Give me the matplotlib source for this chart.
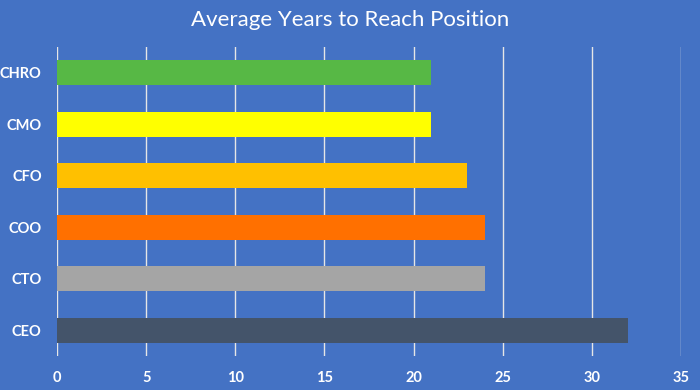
import matplotlib
matplotlib.use('Agg')
import matplotlib.pyplot as plt

# 数据
positions = ['CEO', 'CTO', 'COO', 'CFO', 'CMO', 'CHRO']
years = [32, 24, 24, 23, 21, 21]
bar_colors = ['#44546A', '#A5A5A5', '#FF7000', '#FFC000', '#FFFF00', '#57B845']
x_ticks = [0, 5, 10, 15, 20, 25, 30, 35]

bg = '#4472C4'

plt.rcParams['font.family'] = ['Lato', 'DejaVu Sans']

fig = plt.figure(figsize=(7, 3.9), dpi=100)
fig.patch.set_facecolor(bg)
ax = fig.add_axes([0.0814, 0.0872, 0.8916, 0.7923])
ax.set_facecolor(bg)

ax.barh(range(len(positions)), years, height=0.49, color=bar_colors, zorder=3)

ax.set_xlim(0, 35)
ax.set_ylim(-0.5, len(positions) - 0.5)
ax.set_xticks(x_ticks)
ax.set_yticks(range(len(positions)))
ax.set_yticklabels(positions)

ax.grid(True, axis='x', color='#E6E6E6', linewidth=1, zorder=0)
for s in ax.spines.values():
    s.set_visible(False)
ax.tick_params(axis='both', length=0, colors='white', labelsize=10.5)
ax.tick_params(axis='x', pad=11)
ax.tick_params(axis='y', pad=11)
for lbl in ax.get_xticklabels() + ax.get_yticklabels():
    lbl.set_fontweight('bold')

fig.text(0.5, 0.948, 'Average Years to Reach Position', ha='center', va='center',
         color='white', fontsize=16)

fig.savefig('out.png', dpi=100, facecolor=bg)
